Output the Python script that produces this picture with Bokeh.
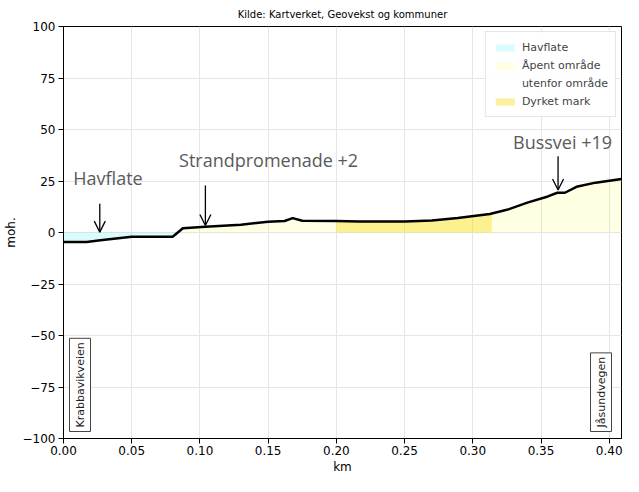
import numpy as np
from bokeh.plotting import figure
from bokeh.models import (Label, Arrow, OpenHead, Legend, LegendItem, Range1d,
                          FixedTicker)
from bokeh.embed import file_html
from bokeh.resources import INLINE

# ---- data ----
dist_km = [0.0, 0.017, 0.027, 0.05, 0.08, 0.0875, 0.104, 0.13, 0.15, 0.162, 0.168,
           0.175, 0.2, 0.217, 0.25, 0.27, 0.289, 0.3125, 0.325, 0.34, 0.355, 0.362,
           0.3675, 0.376, 0.39, 0.409]
height_moh = [-4.6, -4.6, -3.8, -2.1, -2.1, 2.1, 2.8, 3.8, 5.2, 5.6, 7.0,
              5.7, 5.6, 5.3, 5.4, 5.8, 7.0, 9.0, 11.0, 14.5, 17.5, 19.3,
              19.3, 22.2, 24.2, 26.0]
sea_end_km = 0.0875
open_start_km = 0.0875
farm_start_km = 0.2
farm_end_km = 0.314

x_ticks = [0.0, 0.05, 0.10, 0.15, 0.20, 0.25, 0.30, 0.35, 0.40]
y_ticks = [-100, -75, -50, -25, 0, 25, 50, 75, 100]

annotations = [
    # text, text x, text y, arrow x, arrow start y, arrow end y
    ("Havflate", 0.0072, 26.6, 0.0266, 14.0, 0.2),
    ("Strandpromenade +2", 0.0847, 35.0, 0.104, 22.8, 3.4),
    ("Bussvei +19", 0.3295, 44.0, 0.3625, 37.0, 20.6),
]

x = np.array(dist_km)
y = np.array(height_moh)


def segment(x0, x1):
    xs = [x0] + [v for v in dist_km if x0 < v < x1] + [x1]
    ys = list(np.interp(xs, x, y))
    return xs, ys


p = figure(width=623, height=476, output_backend="svg", toolbar_location=None,
           x_range=Range1d(0, 0.409), y_range=Range1d(-100, 100),
           min_border_left=60, min_border_right=2, min_border_bottom=0,
           min_border_top=18,
           title="Kilde: Kartverket, Geovekst og kommuner")
p.title.align = "center"
p.title.text_font = "DejaVu Sans"
p.title.text_font_size = "10px"
p.title.text_font_style = "normal"
p.title.text_color = "black"
p.title.standoff = 13

# fills
sx, sy = segment(0.0, sea_end_km)
r_sea = p.varea(x=sx, y1=list(np.minimum(sy, 0)), y2=[0] * len(sx),
                fill_color="#00e8e8", fill_alpha=0.14)
ox, oy = segment(open_start_km, 0.409)
r_open = p.varea(x=ox, y1=[0] * len(ox), y2=oy, fill_color="#ffff00", fill_alpha=0.11)
fx, fy = segment(farm_start_km, farm_end_km)
r_farm = p.varea(x=fx, y1=[0] * len(fx), y2=fy, fill_color="#fad900", fill_alpha=0.37)
r_dummy = p.quad(left=[], right=[], top=[], bottom=[], fill_alpha=0, line_alpha=0)

p.line(dist_km, height_moh, line_color="black", line_width=2.5)

for text, tx, ty, ax, ay0, ay1 in annotations:
    p.add_layout(Label(x=tx, y=ty, text=text, text_font="Open Sans",
                       text_font_size="18px", text_color="#5a5a5a",
                       text_baseline="middle", text_align="left"))
    p.add_layout(Arrow(end=OpenHead(size=11, line_width=1.3, line_color="black"),
                       x_start=ax, y_start=ay0, x_end=ax, y_end=ay1,
                       line_width=1.3, line_color="black"))

# road boxes
p.add_layout(Label(x=0.0, y=-100, x_offset=6, y_offset=7, text="Krabbavikveien",
                   angle=np.pi / 2, text_align="left", text_baseline="top",
                   text_font="DejaVu Sans", text_font_size="11px",
                   text_color="#222222", border_line_color="#444444",
                   background_fill_color="white", padding=4))
p.add_layout(Label(x=0.409, y=-100, x_offset=-10, y_offset=7, text="Jåsundvegen",
                   angle=np.pi / 2, text_align="left", text_baseline="bottom",
                   text_font="DejaVu Sans", text_font_size="11px",
                   text_color="#222222", border_line_color="#444444",
                   background_fill_color="white", padding=4))

legend = Legend(items=[
    LegendItem(label="Havflate", renderers=[r_sea]),
    LegendItem(label="Åpent område", renderers=[r_open]),
    LegendItem(label="utenfor område", renderers=[r_dummy]),
    LegendItem(label="Dyrket mark", renderers=[r_farm]),
], location="top_right")
legend.label_text_font = "DejaVu Sans"
legend.label_text_font_size = "11px"
legend.label_height = 16
legend.glyph_height = 9
legend.glyph_width = 24
legend.spacing = 2
legend.padding = 7
legend.margin = 5
legend.border_line_color = "#cccccc"
legend.background_fill_alpha = 0.85
p.add_layout(legend)

# axes
p.xaxis.ticker = FixedTicker(ticks=x_ticks)
p.yaxis.ticker = FixedTicker(ticks=y_ticks)
p.xaxis.major_label_overrides = {t: f"{t:.2f}" for t in x_ticks}
p.yaxis.major_label_overrides = {t: (str(t).replace("-", "\u2212")) for t in y_ticks}
p.xaxis.axis_label = "km"
p.yaxis.axis_label = "moh."
for ax in (p.xaxis, p.yaxis):
    ax.minor_tick_line_color = None
    ax.major_tick_out = 5
    ax.major_tick_in = 0
    ax.axis_line_color = "black"
    ax.major_tick_line_color = "black"
    ax.major_label_text_font = "DejaVu Sans"
    ax.major_label_text_font_size = "12px"
    ax.major_label_text_color = "black"
    ax.axis_label_text_font = "DejaVu Sans"
    ax.axis_label_text_font_size = "12px"
    ax.axis_label_text_font_style = "normal"
    ax.axis_label_text_color = "black"
    ax.axis_label_standoff = 2
p.yaxis.major_label_standoff = 3
p.xaxis.major_label_standoff = 2
p.grid.grid_line_color = "#e6e6e6"
p.outline_line_color = "black"
p.outline_line_alpha = 1

open("out.html", "w").write(file_html(p, INLINE))
